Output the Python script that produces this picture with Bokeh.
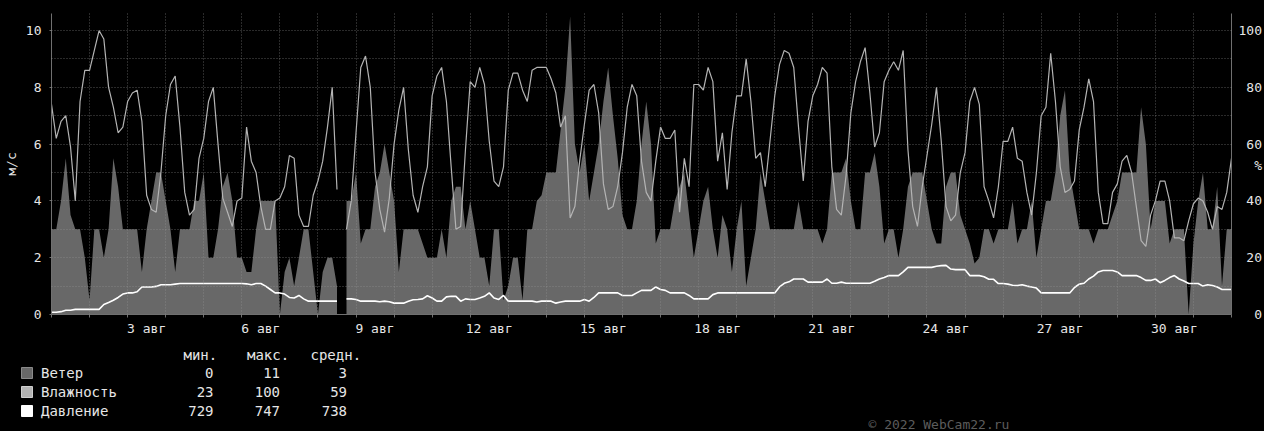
import numpy as np
from bokeh.plotting import figure
from bokeh.layouts import column
from bokeh.models import Range1d, LinearAxis, FixedTicker
from bokeh.core.properties import value
from bokeh.embed import file_html
from bokeh.resources import INLINE

nan = float("nan")

# ---------------- data (3-hour samples from 1 Aug 00:00) ----------------
SAMPLES_PER_DAY = 8

# wind speed, m/s
wind = [
    3, 3, 4, 5.5, 3.5, 3, 3, 2,
    0.5, 3, 3, 2, 3, 5.5, 4.5, 3,
    3, 3, 3, 1.5, 3, 4, 5, 5,
    4, 3, 1.5, 3, 3, 3, 4, 4,
    5, 2, 2, 3, 4.5, 5, 4, 2,
    2, 1.5, 1.5, 3, 4, 4, 4, 4,
    0, 1.5, 2, 1, 2, 3, 3, 1.5,
    0, 1.5, 2, 2, 1, nan, 4, 4,
    5, 2.5, 3, 3, 4.5, 5, 6, 5,
    4, 1.5, 3, 3, 3, 3, 2.5, 2,
    2, 2, 3, 2, 4, 4.5, 4.5, 3,
    4, 3, 2, 2, 1, 3, 3, 0.5,
    1, 2, 2, 0.5, 3, 3, 4, 4.2,
    5, 5, 5, 6.5, 8, 10.5, 6, 5,
    6, 4, 5, 6, 7.5, 8.7, 7, 5.5,
    3.5, 3, 3, 4, 6, 7.5, 6, 2.5,
    3, 3, 3, 4, 4.5, 5, 3.5, 2,
    3, 4, 4.5, 3, 2, 3.5, 3, 1.5,
    3, 4, 1, 2, 3, 5, 4, 3,
    3, 3, 3, 3, 3, 4, 3, 3,
    3, 3, 2.5, 3, 5, 5, 5, 5.5,
    4, 3, 3, 5, 5, 5.7, 4.5, 2.5,
    3, 3, 2, 3, 4.5, 5, 5, 5,
    4, 3, 2.5, 2.5, 4.5, 5, 5, 3.5,
    3, 2.5, 1.8, 2, 3, 3, 2.5, 3,
    3, 3, 4, 2.5, 3, 3, 4, 2,
    3, 4, 4, 5, 7, 7.9, 5, 4,
    3, 3, 3, 2.5, 3, 3, 3, 3.5,
    4, 5, 5, 5, 5, 7.3, 6, 3,
    4, 4, 4, 2.5, 3, 3, 3, 0,
    2.5, 4, 5, 3, 3, 4.5, 1, 3,
    3,
]

# relative humidity, %
humidity = [
    74, 62, 68, 70, 59, 40, 75, 86,
    86, 93, 100, 97, 80, 73, 64, 66,
    75, 78, 79, 68, 42, 37, 36, 50,
    70, 81, 84, 66, 43, 35, 37, 55,
    62, 75, 80, 60, 41, 36, 31, 40,
    41, 66, 54, 50, 38, 30, 30, 40,
    41, 45, 56, 55, 35, 31, 31, 42,
    47, 54, 66, 80, 44, nan, 30, 40,
    64, 87, 91, 80, 50, 37, 29, 41,
    60, 72, 80, 58, 42, 36, 45, 52,
    77, 84, 87, 75, 52, 30, 31, 58,
    82, 80, 87, 81, 61, 47, 45, 52,
    79, 85, 85, 79, 75, 86, 87, 87,
    87, 83, 78, 66, 70, 34, 38, 54,
    67, 79, 81, 71, 46, 37, 38, 45,
    57, 73, 81, 77, 54, 43, 40, 54,
    66, 62, 62, 65, 36, 55, 45, 81,
    81, 79, 87, 82, 54, 64, 44, 64,
    77, 77, 90, 75, 55, 57, 45, 61,
    77, 88, 93, 92, 87, 66, 47, 68,
    77, 81, 87, 85, 52, 37, 35, 49,
    71, 82, 89, 94, 78, 59, 64, 82,
    86, 89, 86, 93, 58, 38, 31, 45,
    56, 67, 80, 61, 38, 33, 35, 50,
    57, 75, 80, 74, 45, 40, 34, 45,
    61, 61, 66, 55, 54, 43, 35, 50,
    70, 73, 92, 75, 52, 43, 44, 47,
    65, 73, 83, 75, 43, 32, 32, 43,
    46, 54, 56, 50, 38, 26, 24, 35,
    40, 47, 47, 40, 27, 27, 26, 33,
    39, 41, 40, 36, 30, 38, 37, 43,
    55,
]

# pressure, mm Hg
pressure = [
    729.8, 729.8, 730.0, 730.5, 730.5, 730.8, 730.8, 730.8,
    730.8, 730.8, 730.8, 732.5, 733.2, 734.0, 735.0, 736.2,
    736.6, 736.6, 737.0, 738.7, 738.7, 738.7, 738.9, 739.5,
    739.5, 739.5, 739.7, 739.9, 739.9, 739.9, 739.9, 739.9,
    739.9, 739.9, 739.9, 739.9, 739.9, 739.9, 739.9, 739.9,
    739.9, 739.8, 739.5, 739.9, 739.9, 739.0, 737.8, 736.6,
    736.6, 736.2, 735.0, 734.8, 735.7, 734.5, 733.7, 733.7,
    733.7, 733.7, 733.7, 733.7, 733.7, nan, 734.5, 734.5,
    734.3, 733.7, 733.7, 733.7, 733.7, 733.5, 733.7, 733.5,
    733.0, 733.0, 733.0, 733.7, 734.2, 734.3, 734.5, 735.6,
    734.8, 733.7, 733.7, 735.2, 735.4, 735.4, 733.7, 734.5,
    734.3, 734.3, 734.8, 735.4, 736.6, 734.8, 734.3, 735.7,
    733.7, 733.7, 733.7, 733.7, 733.7, 733.7, 733.4, 733.7,
    733.7, 733.7, 733.0, 733.4, 733.7, 733.7, 733.7, 733.7,
    734.3, 733.7, 735.0, 736.6, 736.6, 736.6, 736.6, 736.6,
    735.7, 735.7, 735.7, 736.6, 737.5, 737.5, 737.5, 738.7,
    737.8, 737.5, 736.6, 736.6, 736.6, 736.6, 735.7, 734.5,
    734.5, 734.5, 734.5, 736.0, 736.6, 736.6, 736.6, 736.6,
    736.6, 736.6, 736.6, 736.6, 736.6, 736.6, 736.6, 736.6,
    736.6, 738.7, 740.0, 740.5, 741.5, 741.5, 741.5, 740.4,
    740.4, 740.4, 740.4, 741.5, 740.0, 740.0, 740.4, 740.0,
    740.0, 740.0, 740.0, 740.0, 740.0, 740.7, 741.5, 742.0,
    742.7, 742.7, 742.7, 744.0, 745.6, 745.6, 745.6, 745.6,
    745.6, 745.6, 746.0, 746.2, 746.3, 745.0, 744.8, 744.8,
    744.8, 742.7, 742.7, 742.7, 742.3, 741.4, 741.4, 739.9,
    739.9, 739.7, 739.3, 739.2, 739.5, 739.0, 738.7, 738.3,
    736.6, 736.6, 736.6, 736.6, 736.6, 736.6, 736.6, 738.5,
    739.7, 740.0, 741.5, 742.5, 744.0, 744.5, 744.5, 744.5,
    744.0, 742.7, 742.7, 742.7, 742.7, 742.0, 741.0, 741.0,
    741.5, 740.2, 741.0, 742.0, 742.7, 741.5, 740.8, 739.9,
    739.9, 739.9, 739.0, 739.5, 739.2, 738.7, 737.8, 737.8,
    737.8,
]
PRESSURE_BASE = 729.0      # mm Hg drawn at 0 of the m/s scale
PRESSURE_PER_UNIT = 10.0   # mm Hg per 1 m/s division

x_tick_labels = ["3 авг", "6 авг", "9 авг", "12 авг", "15 авг",
                 "18 авг", "21 авг", "24 авг", "27 авг", "30 авг"]

series_names = ["Ветер", "Влажность", "Давление"]
stat_min = [0, 23, 729]
stat_max = [11, 100, 747]
stat_avg = [3, 59, 738]
stat_headers = ["мин.", "макс.", "средн."]
copyright_text = "© 2022 WebCam22.ru"

# ---------------- styling / layout ----------------
MONO = "DejaVu Sans Mono"
TXT = "#e6e6e6"
AXIS_COL = "#707070"
WIND_COL = "#686868"
HUM_COL = "#b4b4b4"
PRES_COL = "#ffffff"
N_DAYS = 31
NB = "\u00a0"

W = 1264
H_MAIN = 338
H_LEG = 431 - H_MAIN
FL, FR, FT, FB = 49, 1231, 13, 315      # frame edges in canvas pixels
BLACK_BG = {"background-color": "#000000"}


def no_align(fig):
    try:
        fig.frame_align = False
    except Exception:
        pass


t = np.arange(len(wind)) / SAMPLES_PER_DAY
wind_a = np.array(wind, dtype=float)
hum_a = np.array(humidity, dtype=float)
pres_a = (np.array(pressure, dtype=float) - PRESSURE_BASE) / PRESSURE_PER_UNIT

p = figure(width=W, height=H_MAIN, x_range=Range1d(0, N_DAYS), y_range=Range1d(0, 10.6),
           toolbar_location=None, output_backend="svg",
           background_fill_color="black", border_fill_color="black",
           outline_line_color=None,
           min_border_left=FL, min_border_right=W - FR,
           min_border_top=FT, min_border_bottom=H_MAIN - FB)
no_align(p)
p.styles = BLACK_BG

# wind area, split on gaps
seg_x, seg_y = [], []
def flush():
    if seg_x:
        p.varea(x=list(seg_x), y1=0, y2=list(seg_y), fill_color=WIND_COL, fill_alpha=1.0)
for xi, yi in zip(t, wind_a):
    if np.isnan(yi):
        flush()
        seg_x, seg_y = [], []
    else:
        seg_x.append(xi)
        seg_y.append(yi)
flush()

p.extra_y_ranges = {"hum": Range1d(0, 106)}
p.line(t, hum_a, y_range_name="hum", line_color=HUM_COL, line_width=1.2)
p.line(t, pres_a, line_color=PRES_COL, line_width=1.6)

# grids
p.xgrid.ticker = FixedTicker(ticks=list(range(1, N_DAYS)))
p.ygrid.ticker = FixedTicker(ticks=list(range(1, 11)))
for g in (p.xgrid, p.ygrid):
    g.grid_line_color = "#9a9a9a"
    g.grid_line_alpha = 0.55
    g.grid_line_dash = "1 2"
    g.grid_line_width = 1
    g.level = "guide"

# x axis
label_days = [int(s.split()[0]) - 1 + 0.5 for s in x_tick_labels]
xa = p.xaxis[0]
xa.ticker = FixedTicker(ticks=label_days, minor_ticks=list(range(0, N_DAYS + 1)))
xa.major_label_overrides = {d: s for d, s in zip(label_days, x_tick_labels)}
xa.major_tick_out = 0
xa.major_tick_in = 0
xa.minor_tick_out = 3
xa.minor_tick_in = 0
xa.minor_tick_line_color = AXIS_COL
xa.axis_line_color = AXIS_COL
xa.major_label_standoff = 3

# left axis
ya = p.yaxis[0]
ya.ticker = FixedTicker(ticks=[0, 2, 4, 6, 8, 10])
ya.major_tick_out = 2
ya.major_tick_in = 0
ya.minor_tick_out = 0
ya.minor_tick_in = 0
ya.major_tick_line_color = AXIS_COL
ya.axis_line_color = AXIS_COL
ya.major_label_standoff = 8
ya.axis_label = "м/с"
ya.axis_label_standoff = 4

# right axis (the "%" unit sits between the 40 and 60 labels)
hum_ticks = [0, 20, 40, 60, 80, 100]
UNIT_POS = 52.5
ra = LinearAxis(y_range_name="hum", ticker=FixedTicker(ticks=hum_ticks + [UNIT_POS]))
overrides = {v: str(v).rjust(3, NB) for v in hum_ticks}
overrides[UNIT_POS] = NB * 2 + "%"
ra.major_label_overrides = overrides
ra.major_tick_out = 0
ra.major_tick_in = 0
ra.minor_tick_out = 0
ra.minor_tick_in = 0
ra.axis_line_color = AXIS_COL
ra.major_label_standoff = 7
p.add_layout(ra, "right")

for ax in (xa, ya, ra):
    ax.major_label_text_font = MONO
    ax.major_label_text_font_size = "13px"
    ax.major_label_text_color = TXT
    ax.axis_label_text_font = MONO
    ax.axis_label_text_font_size = "13px"
    ax.axis_label_text_font_style = "normal"
    ax.axis_label_text_color = TXT

# ---------------- legend / statistics panel (pixel coordinates, y down) ----------------
q = figure(width=W, height=H_LEG, x_range=Range1d(0, W), y_range=Range1d(H_LEG, 0),
           toolbar_location=None, output_backend="svg",
           x_axis_type=None, y_axis_type=None,
           background_fill_color="black", border_fill_color="black",
           outline_line_color=None,
           min_border_left=0, min_border_right=0, min_border_top=0, min_border_bottom=0)
no_align(q)
q.styles = BLACK_BG

Y0 = H_MAIN                       # canvas y of this panel's top edge
ROW_Y = [372.5 - Y0, 391.5 - Y0, 410.5 - Y0]
HDR_Y = 354 - Y0
LEG_FONT = "14px"

q.scatter(x=[26.5] * 3, y=ROW_Y, marker="square", size=11,
          fill_color=[WIND_COL, HUM_COL, PRES_COL],
          line_color=["#8a8a8a", "#cfcfcf", "#ffffff"], line_width=1)
q.text(x=[40.5] * 3, y=ROW_Y, text=series_names, text_font=value(MONO),
       text_font_size=LEG_FONT, text_color=TXT, text_baseline="middle", text_align="left")
q.text(x=[183, 246.5, 310], y=[HDR_Y] * 3, text=stat_headers, text_font=value(MONO),
       text_font_size=LEG_FONT, text_color=TXT, text_baseline="middle", text_align="left")
for cx, vals in zip([213, 279.5, 346.5], [stat_min, stat_max, stat_avg]):
    q.text(x=[cx] * 3, y=ROW_Y, text=[str(v) for v in vals], text_font=value(MONO),
           text_font_size=LEG_FONT, text_color=TXT, text_baseline="middle", text_align="right")
q.text(x=[868], y=[H_LEG - 7], text=[copyright_text], text_font=value(MONO),
       text_font_size="13px", text_color="#5c5c5c", text_baseline="middle", text_align="left")

layout = column(p, q, spacing=0)
layout.styles = BLACK_BG
open("out.html", "w").write(file_html(layout, INLINE))
